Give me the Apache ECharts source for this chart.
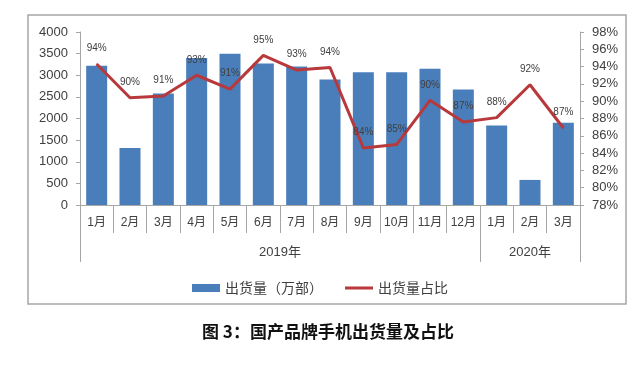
<!DOCTYPE html>
<html>
<head>
<meta charset="utf-8">
<script src="https://cdn.jsdelivr.net/npm/echarts@6/dist/echarts.min.js"></script>
<style>html,body{margin:0;padding:0;background:#fff;}#c{width:640px;height:381px;}</style>
</head>
<body>
<div id="c"></div>
<script>
const months = ['1月','2月','3月','4月','5月','6月','7月','8月','9月','10月','11月','12月','1月','2月','3月'];
const shipments = [3220, 1320, 2580, 3400, 3500, 3270, 3200, 2900, 3070, 3070, 3150, 2670, 1840, 580, 1900];
const shareRatio = [94.3, 90.4, 90.6, 93.0, 91.4, 95.3, 93.6, 93.9, 84.6, 85.0, 90.1, 87.6, 88.1, 91.9, 86.9];
const shareLabels = ['94%','90%','91%','93%','91%','95%','93%','94%','84%','85%','90%','87%','88%','92%','87%'];
const years = ['2019年', '2020年'];
const yearBounds = [0, 12, 15];
const yearCenters = [6, 13.5];
const leftTicks = [0, 4000, 500];
const rightTicks = [78, 98, 2];
const seriesNames = ['出货量（万部）', '出货量占比'];
const titleText = '图 3：国产品牌手机出货量及占比';

const FONT = '"Liberation Sans", "Noto Sans CJK SC", sans-serif';
const chart = echarts.init(document.getElementById('c'), null, {renderer: 'canvas'});
chart.setOption({
  animation: false,
  backgroundColor: '#fff',
  textStyle: {fontFamily: FONT},
  title: {
    text: titleText, left: 197, top: 318,
    textStyle: {fontSize: 17, fontWeight: 'bold', color: '#111', fontFamily: '"Noto Sans CJK SC", sans-serif'}
  },
  graphic: [{
    type: 'rect', shape: {x: 28, y: 15, width: 598, height: 289},
    style: {fill: 'none', stroke: '#a6a6a6', lineWidth: 1.5}, silent: true
  }],
  legend: {
    top: 276, left: 'center', itemGap: 22, itemWidth: 28, itemHeight: 8,
    textStyle: {fontSize: 14, color: '#404040', fontFamily: '"Noto Sans CJK SC", sans-serif'},
    data: [
      {name: seriesNames[0], icon: 'rect'},
      {name: seriesNames[1], icon: 'path://M0,0h28v3h-28z'}
    ]
  },
  grid: {left: 80, right: 60, top: 32, bottom: 176},
  xAxis: [{
    type: 'category', data: months, position: 'bottom',
    axisLine: {lineStyle: {color: '#a6a6a6', width: 1}},
    axisTick: {show: true, length: 28, interval: 0, lineStyle: {color: '#a6a6a6'}},
    axisLabel: {interval: 0, margin: 12, fontSize: 12, color: '#404040'}
  }, {
    type: 'value', min: 0, max: 15, position: 'bottom',
    axisLine: {show: false}, splitLine: {show: false},
    axisTick: {show: true, length: 57, customValues: yearBounds, lineStyle: {color: '#a6a6a6'}},
    axisLabel: {customValues: yearCenters, margin: 41, fontSize: 13, color: '#404040',
      formatter: v => years[yearCenters.indexOf(v)] || ''}
  }],
  yAxis: [{
    type: 'value', min: leftTicks[0], max: leftTicks[1], interval: leftTicks[2],
    axisLine: {show: true, lineStyle: {color: '#a6a6a6'}},
    axisTick: {show: true, length: 4, lineStyle: {color: '#a6a6a6'}},
    splitLine: {show: false},
    axisLabel: {margin: 12, fontSize: 13, color: '#404040', formatter: v => String(v)}
  }, {
    type: 'value', min: rightTicks[0], max: rightTicks[1], interval: rightTicks[2], position: 'right',
    axisLine: {show: true, lineStyle: {color: '#a6a6a6'}},
    axisTick: {show: true, length: 4, lineStyle: {color: '#a6a6a6'}},
    splitLine: {show: false},
    axisLabel: {margin: 12, fontSize: 13, color: '#404040', formatter: '{value}%'}
  }],
  series: [{
    name: seriesNames[0], type: 'bar', xAxisIndex: 0, yAxisIndex: 0,
    data: shipments, barWidth: '63%',
    itemStyle: {color: '#4a7ebb'}
  }, {
    name: seriesNames[1], type: 'line', xAxisIndex: 0, yAxisIndex: 1,
    data: shareRatio, symbol: 'circle', symbolSize: 1, showSymbol: true,
    lineStyle: {color: '#b8393b', width: 3}, itemStyle: {color: '#b8393b'},
    label: {show: true, position: 'top', distance: 10, fontSize: 10, color: '#404040',
      formatter: p => shareLabels[p.dataIndex]}
  }]
});
</script>
</body>
</html>
